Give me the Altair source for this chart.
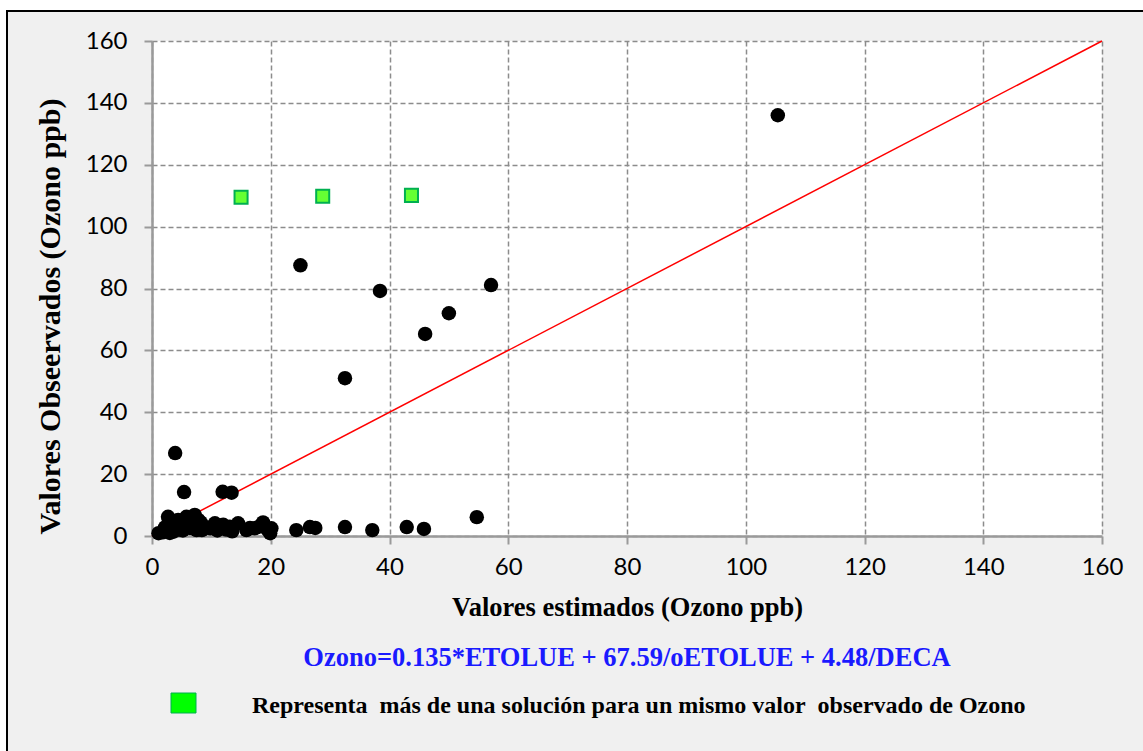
import altair as alt
import pandas as pd

# Observed vs estimated ozone (black points)
obs_x = [105.4, 25.0, 38.4, 57.1, 50.0, 46.0, 32.5, 3.9, 5.4, 11.9, 13.4, 54.7,
         24.3, 26.6, 27.5, 32.5, 37.1, 42.9, 45.8,
         1.1, 1.8, 2.5, 2.7, 3.0, 3.6, 4.4, 4.6, 5.2, 5.8, 6.0, 6.4, 7.2, 7.5, 7.8,
         8.2, 8.4, 9.0, 9.8, 10.6, 11.0, 12.0, 12.5, 13.1, 13.5, 14.5, 15.9, 16.5,
         17.3, 18.0, 18.7, 19.5, 20.1, 19.9, 3.3, 2.2]
obs_y = [136.0, 87.5, 79.2, 81.1, 72.0, 65.3, 51.0, 26.8, 14.2, 14.3, 14.0, 6.1,
         1.9, 2.9, 2.6, 2.9, 1.9, 2.9, 2.3,
         0.9, 1.2, 1.9, 6.2, 1.0, 1.4, 5.2, 2.1, 1.8, 6.2, 3.2, 2.6, 6.8, 1.9, 5.2,
         4.4, 1.9, 2.8, 2.5, 4.1, 1.8, 3.6, 2.1, 3.0, 1.5, 4.1, 1.9, 2.6,
         2.5, 3.0, 4.4, 2.0, 2.5, 0.9, 3.5, 2.8]

# Points with more than one solution (green squares)
multi_x = [15.0, 28.75, 43.7]
multi_y = [109.5, 109.8, 110.1]

# 1:1 reference line
line_x = [0, 160]
line_y = [0, 160]

axis_ticks = [0, 20, 40, 60, 80, 100, 120, 140, 160]

x_title = "Valores estimados (Ozono ppb)"
y_title = "Valores Obseervados (Ozono ppb)"
equation = "Ozono=0.135*ETOLUE + 67.59/oETOLUE + 4.48/DECA"
legend_text = "Representa\u00a0 más de una solución para un mismo valor\u00a0 observado de Ozono"

obs_df = pd.DataFrame({"x": obs_x, "y": obs_y})
multi_df = pd.DataFrame({"x": multi_x, "y": multi_y})
line_df = pd.DataFrame({"x": line_x, "y": line_y})

xscale = alt.Scale(domain=[0, 160], nice=False)
yscale = alt.Scale(domain=[0, 160], nice=False)

xaxis = alt.Axis(values=axis_ticks, title=x_title, titleFont="Liberation Serif",
                 titleFontSize=26.5, titleFontWeight="bold", titleColor="black",
                 titlePadding=15, labelPadding=11, labelFlush=False)
yaxis = alt.Axis(values=axis_ticks, title=y_title, titleFont="Liberation Serif",
                 titleFontSize=30, titleFontWeight="bold", titleColor="black",
                 titlePadding=20, labelPadding=17, titleY=275)

line = alt.Chart(line_df).mark_line(color="#ff0000", strokeWidth=1.5).encode(
    x=alt.X("x:Q", scale=xscale, axis=xaxis),
    y=alt.Y("y:Q", scale=yscale, axis=yaxis),
)

points = alt.Chart(obs_df).mark_point(shape="circle", filled=True, color="black",
                                      size=210, opacity=1).encode(
    x=alt.X("x:Q", scale=xscale),
    y=alt.Y("y:Q", scale=yscale),
)

squares = alt.Chart(multi_df).mark_point(shape="square", filled=True, fill="#66ff33",
                                         stroke="#00b050", strokeWidth=2, size=170,
                                         opacity=1).encode(
    x=alt.X("x:Q", scale=xscale),
    y=alt.Y("y:Q", scale=yscale),
)

eq_text = alt.Chart(pd.DataFrame({"t": [equation]})).mark_text(
    font="Liberation Serif", fontSize=26.5, fontWeight="bold", color="#1a1aff",
    align="center", baseline="middle").encode(
    text="t:N", x=alt.value(475), y=alt.value(617))

leg_text = alt.Chart(pd.DataFrame({"t": [legend_text]})).mark_text(
    font="Liberation Serif", fontSize=24, fontWeight="bold", color="black",
    align="left", baseline="middle").encode(
    text="t:N", x=alt.value(100), y=alt.value(665))

leg_box = alt.Chart(pd.DataFrame({"t": [0]})).mark_rect(
    fill="#00ff00", stroke="#00b050", strokeWidth=1).encode(
    x=alt.value(19), x2=alt.value(44), y=alt.value(652), y2=alt.value(672))

# frame decoration
white_left = alt.Chart(pd.DataFrame({"t": [0]})).mark_rule(color="white", strokeWidth=8).encode(
    x=alt.value(-149), y=alt.value(-45), y2=alt.value(720))
white_top = alt.Chart(pd.DataFrame({"t": [0]})).mark_rule(color="white", strokeWidth=10).encode(
    x=alt.value(-155), x2=alt.value(1000), y=alt.value(-36))
black_left = alt.Chart(pd.DataFrame({"t": [0]})).mark_rule(color="black", strokeWidth=2).encode(
    x=alt.value(-145), y=alt.value(-31), y2=alt.value(720))
black_top = alt.Chart(pd.DataFrame({"t": [0]})).mark_rule(color="black", strokeWidth=2).encode(
    x=alt.value(-146), x2=alt.value(1000), y=alt.value(-30))

chart = alt.layer(white_left, white_top, black_left, black_top, line, points, squares,
                  eq_text, leg_box, leg_text).properties(
    width=950, height=495,
    autosize=alt.AutoSizeParams(type="none"),
    padding={"left": 152, "top": 41, "right": 41, "bottom": 215},
    background="#f0f0f0",
).configure_view(fill="white", stroke=None).configure_axis(
    grid=True, gridColor="#8c8c8c", gridDash=[5, 3], gridWidth=1.5,
    domainColor="#9a9a9a", domainWidth=2.5,
    tickColor="#9a9a9a", tickWidth=2, tickSize=8,
    labelFont="Lato", labelFontSize=24, labelColor="black",
)

chart.save("out.html", embed_options={"renderer": "svg", "actions": False})
